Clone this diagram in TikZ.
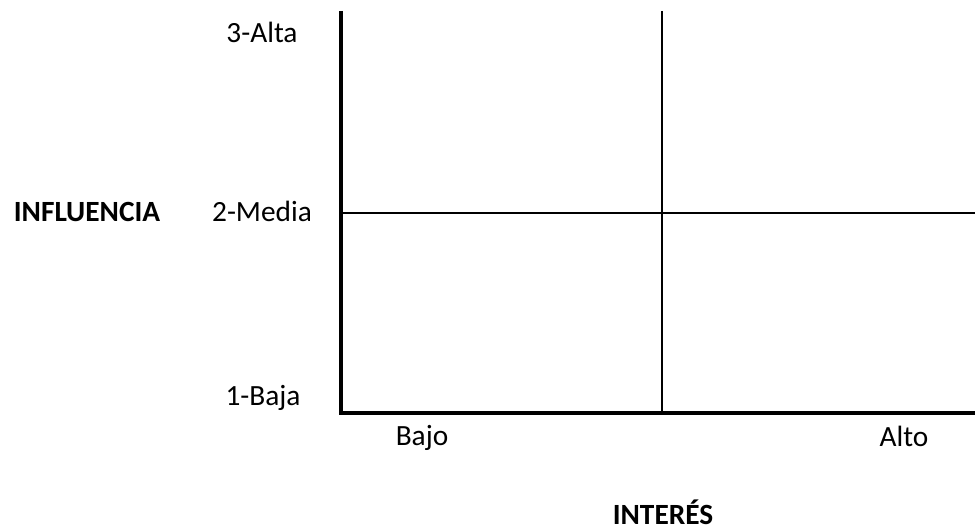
\documentclass[tikz,border=0pt]{standalone}
\usepackage{fontspec}
\setmainfont{Carlito}
\begin{document}
\begin{tikzpicture}[x=0.75pt,y=-0.75pt]
        \tikzstyle{level}=[anchor=base,font=\fontsize{22}{26}\selectfont]
        \tikzstyle{axisname}=[anchor=base,font=\fontsize{22}{26}\selectfont\bfseries]
        \tikzstyle{axis}=[draw,line width=2.6pt]
        \tikzstyle{split}=[draw,line width=1.1pt]
        \useasboundingbox (0,0) rectangle (975,531);
       \begin{scope}
         \coordinate (o) at (341,413);
         \coordinate (top) at (341,11);
         \coordinate (right) at (975,413);
         \coordinate (midtop) at (662,11);
         \coordinate (midbot) at (662,413);
         \coordinate (midl) at (341,213);
         \coordinate (midr) at (975,213);
         \node [level] (alta) at (262,43) {3-Alta};
         \node [level] (media) at (262,222) {2-Media};
         \node [level] (baja) at (263,405) {1-Baja};
         \node [axisname] (infl) at (87,222) {INFLUENCIA};
         \node [level] (bajo) at (422,445) {Bajo};
         \node [level] (alto) at (904,446) {Alto};
         \node [axisname] (inter) at (663,524) {INTERÉS};
         \path[split] (midl) -- (midr);
         \path[split] (midtop) -- (midbot);
         \path[axis] (top) -- (o) -- (right);
        \end{scope}
      \end{tikzpicture}
\end{document}
